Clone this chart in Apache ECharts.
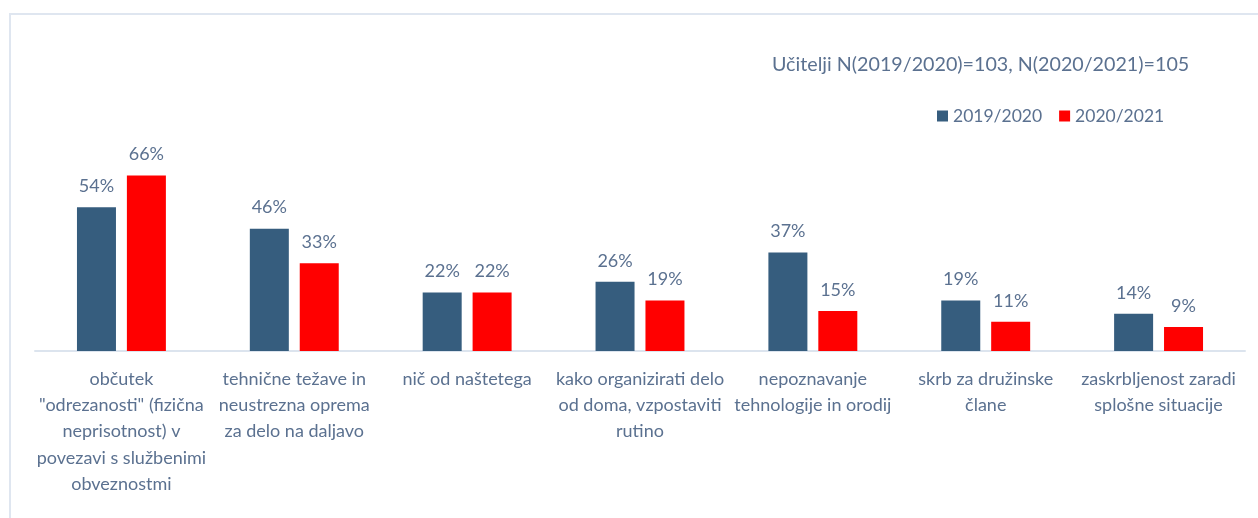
<!DOCTYPE html>
<html>
<head>
<meta charset="utf-8">
<script src="https://cdn.jsdelivr.net/npm/echarts@6/dist/echarts.min.js"></script>
<style>
html,body{margin:0;padding:0;background:#fff;}
#chart{width:1258px;height:518px;}
</style>
</head>
<body>
<div id="chart"></div>
<script>
const categories = [
  'občutek\n"odrezanosti" (fizična\nneprisotnost) v\npovezavi s službenimi\nobveznostmi',
  'tehnične težave in\nneustrezna oprema\nza delo na daljavo',
  'nič od naštetega',
  'kako organizirati delo\nod doma, vzpostaviti\nrutino',
  'nepoznavanje\ntehnologije in orodij',
  'skrb za družinske\nčlane',
  'zaskrbljenost zaradi\nsplošne situacije'
];
const seriesNames = ['2019/2020', '2020/2021'];
const values2019 = [54, 46, 22, 26, 37, 19, 14];
const values2020 = [66, 33, 22, 19, 15, 11, 9];
const titleText = 'Učitelji N(2019/2020)=103, N(2020/2021)=105';

const textColor = '#5B7190';
const fontFamily = 'Lato, "Noto Sans", sans-serif';
const chart = echarts.init(document.getElementById('chart'));
const labelOpt = {
  show: true, position: 'top', distance: 12,
  formatter: p => p.value + '%',
  color: textColor, fontSize: 18, fontFamily: fontFamily
};
chart.setOption({
  animation: false,
  backgroundColor: '#fff',
  graphic: [{
    type: 'rect', silent: true, z: -10,
    shape: { x: 10, y: 14, width: 1400, height: 700 },
    style: { fill: 'none', stroke: '#DFE6F0', lineWidth: 2 }
  }],
  title: {
    text: titleText, left: 767, top: 50,
    textStyle: { color: textColor, fontSize: 19.7, fontWeight: 'normal', fontFamily: fontFamily }
  },
  legend: {
    data: seriesNames, left: 932, top: 102, itemWidth: 11, itemHeight: 11, itemGap: 17,
    icon: 'rect',
    textStyle: { color: textColor, fontSize: 17.5, fontFamily: fontFamily }
  },
  grid: { left: 35, right: 13, top: 85, bottom: 167, containLabel: false },
  xAxis: {
    type: 'category', data: categories,
    axisLine: { lineStyle: { color: '#DCE4EE', width: 2 } },
    axisTick: { show: false },
    axisLabel: { interval: 0, color: textColor, fontSize: 18, lineHeight: 26.2, margin: 15, fontFamily: fontFamily }
  },
  yAxis: { type: 'value', min: 0, max: 100, show: false, splitLine: { show: false } },
  series: [
    { name: seriesNames[0], type: 'bar', data: values2019, barWidth: 39, barGap: '28%',
      itemStyle: { color: '#365D7E' }, label: labelOpt },
    { name: seriesNames[1], type: 'bar', data: values2020, barWidth: 39,
      itemStyle: { color: '#FF0000' }, label: labelOpt }
  ]
});
</script>
</body>
</html>
